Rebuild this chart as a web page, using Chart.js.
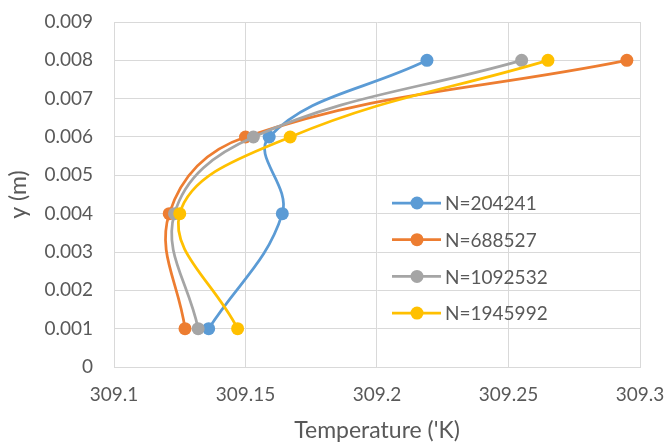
<!DOCTYPE html>
<html>
<head>
<meta charset="utf-8">
<script src="https://cdn.jsdelivr.net/npm/chart.js@4.4.1/dist/chart.umd.min.js"></script>
<style>
  html, body { margin: 0; padding: 0; background: #ffffff; }
  #wrap { width: 669px; height: 444px; position: relative; }
</style>
</head>
<body>
<div id="wrap"><canvas id="chart" width="669" height="444"></canvas></div>
<script>
// heights (m) where temperature was sampled
var alturas = [0.001, 0.004, 0.006, 0.008]

// temperature ('K) per mesh
var serieNombres = ['N=204241', 'N=688527', 'N=1092532', 'N=1945992']
var temp204241 = [309.136, 309.164, 309.159, 309.219]
var temp688527 = [309.127, 309.121, 309.150, 309.295]
var temp1092532 = [309.132, 309.123, 309.153, 309.255]
var temp1945992 = [309.147, 309.125, 309.167, 309.265]

var colores = ['#5B9BD5', '#ED7D31', '#A5A5A5', '#FFC000']

var ticksX = [309.1, 309.15, 309.2, 309.25, 309.3]
var ticksY = [0, 0.001, 0.002, 0.003, 0.004, 0.005, 0.006, 0.007, 0.008, 0.009]

const fuente = 'Lato, "Open Sans", sans-serif'
const gris = '#595959'

function armarPuntos(temps){
   var pts = []
   for (var i = 0; i < temps.length; i++){
      pts.push({x: temps[i], y: alturas[i]})
   }
   return pts
}

var todasSeries = [temp204241, temp688527, temp1092532, temp1945992]
var datasets = []
for (var i = 0; i < todasSeries.length; i++){
   datasets.push({
      label: serieNombres[i],
      data: armarPuntos(todasSeries[i]),
      borderColor: colores[i],
      backgroundColor: colores[i],
      borderWidth: 2.75,
      pointRadius: 6.5,
      pointHoverRadius: 6.5,
      pointBorderWidth: 0,
      showLine: true,
      tension: 0.4,
      order: todasSeries.length - i
   })
}

// legend drawn inside the plot area, like the original
const leyendaInterna = {
   id: 'leyendaInterna',
   afterDraw(chart){
      const ctx = chart.ctx
      const area = chart.chartArea
      const x0 = area.left + 278
      const y0 = area.top + 181
      ctx.save()
      chart.data.datasets.forEach(function(ds, i){
         const y = y0 + i * 36.7
         ctx.strokeStyle = ds.borderColor
         ctx.lineWidth = 2.75
         ctx.beginPath()
         ctx.moveTo(x0, y)
         ctx.lineTo(x0 + 49, y)
         ctx.stroke()
         ctx.fillStyle = ds.backgroundColor
         ctx.beginPath()
         ctx.arc(x0 + 25, y, 6.5, 0, Math.PI * 2)
         ctx.fill()
         ctx.fillStyle = gris
         ctx.font = '19px ' + fuente
         ctx.textBaseline = 'middle'
         ctx.textAlign = 'left'
         ctx.fillText(ds.label, x0 + 53, y + 1)
      })
      ctx.restore()
   }
}

new Chart(document.getElementById('chart').getContext('2d'), {
   type: 'scatter',
   data: { datasets: datasets },
   options: {
      responsive: false,
      animation: false,
      layout: { padding: { left: 0, right: 29, top: 22, bottom: 0 } },
      plugins: {
         legend: { display: false },
         tooltip: { enabled: false }
      },
      scales: {
         x: {
            type: 'linear',
            min: ticksX[0],
            max: ticksX[ticksX.length - 1],
            afterFit: function(s){
               s.height = 77
               s.paddingLeft = 0
               s.paddingRight = 0
            },
            afterBuildTicks: function(s){ s.ticks = ticksX.map(function(v){ return {value: v} }) },
            ticks: {
               color: gris,
               font: { family: fuente, size: 19 },
               padding: 16,
               maxRotation: 0,
               callback: function(v){ return String(Number(v.toFixed(2))) }
            },
            grid: { color: '#D9D9D9', lineWidth: 1, drawTicks: false },
            border: { color: '#D9D9D9' },
            title: {
               display: true,
               text: "Temperature ('K)",
               color: gris,
               font: { family: fuente, size: 23 },
               padding: { top: 0, bottom: 0 }
            }
         },
         y: {
            type: 'linear',
            min: ticksY[0],
            max: ticksY[ticksY.length - 1],
            afterFit: function(s){
               s.width = 114
               s.paddingTop = 0
               s.paddingBottom = 0
            },
            afterBuildTicks: function(s){ s.ticks = ticksY.map(function(v){ return {value: v} }) },
            ticks: {
               color: gris,
               font: { family: fuente, size: 19 },
               padding: 21,
               callback: function(v){ return String(Number(v.toFixed(3))) }
            },
            grid: { color: '#D9D9D9', lineWidth: 1, drawTicks: false },
            border: { color: '#D9D9D9' },
            title: {
               display: true,
               text: 'y (m)',
               color: gris,
               font: { family: fuente, size: 23 },
               padding: { top: 5, bottom: 0 }
            }
         }
      }
   },
   plugins: [leyendaInterna]
})
</script>
</body>
</html>
